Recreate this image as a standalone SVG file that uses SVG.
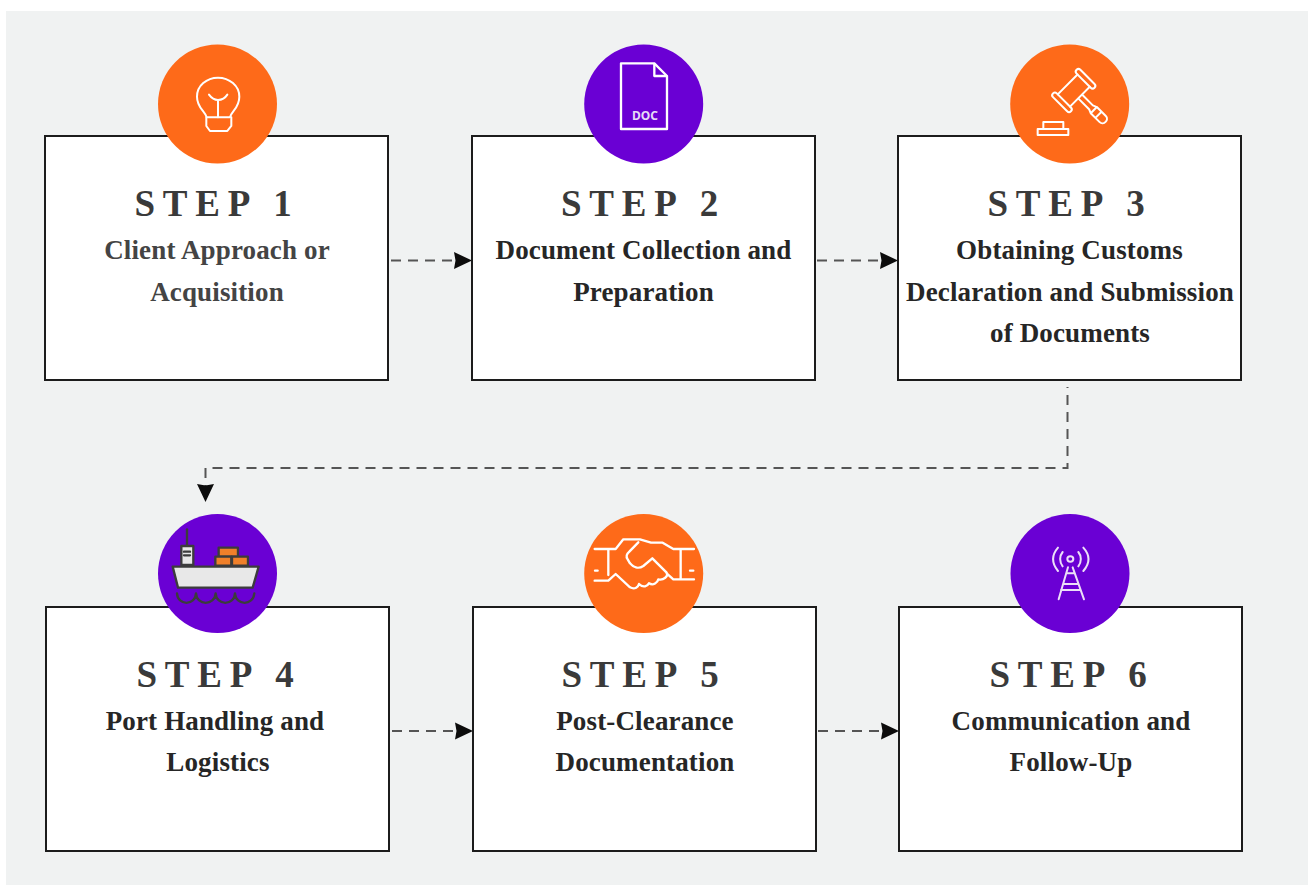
<svg xmlns="http://www.w3.org/2000/svg" width="1308" height="886" viewBox="0 0 1308 886">
<style>
.box{fill:#fff;stroke:#1c1c1c;stroke-width:2}
.step{font:bold 37px "Liberation Serif",serif;letter-spacing:7.8px;fill:#3a3a3a;text-anchor:middle}
.t{font:bold 27px "Liberation Serif",serif;letter-spacing:.15px;fill:#262626;text-anchor:middle}
.or{fill:#fe6a19}.pu{fill:#6a00d4}
.ic{fill:none;stroke:#fff;stroke-width:6;stroke-linejoin:round;stroke-linecap:round}
.sh{fill:none;stroke:#3c3c3c;stroke-width:7;stroke-linejoin:round;stroke-linecap:round}
.c{fill:none;stroke:#555;stroke-width:2;stroke-dasharray:10 7}
</style>
<defs><marker id="a" markerUnits="userSpaceOnUse" markerWidth="20" markerHeight="20" refX="18" refY="9" orient="auto"><path d="M0 0.500L18 9L0 17.500L1.500 9Z" fill="#0c0c0c"/></marker></defs>
<rect x="6" y="11" width="1302" height="874" fill="#f0f2f2"/>
<g id="connectors">
<path class="c" d="M391 260.500H472" marker-end="url(#a)"/>
<path class="c" d="M817 260.500H898" marker-end="url(#a)"/>
<path class="c" d="M1067.500 387V468H205.500V502" marker-end="url(#a)" stroke-dashoffset="9"/>
<path class="c" d="M392 731H473" marker-end="url(#a)"/>
<path class="c" d="M818 731H899" marker-end="url(#a)"/>
</g>
<g id="step1"><rect class="box" x="45" y="136" width="343" height="244"/><circle class="or" cx="217.500" cy="104" r="59.500"/>
<g transform="translate(150 40) scale(.3333)" class="ic"><path d="M170 232C165 212 141 204 141 170C141 137 170 113 204 113C238 113 268 137 268 170C268 204 245 212 240 232Z"/><path d="M177 164C185 175 195 180 204 180C215 180 225 175 232 164M204 180V232M169 232L169 258L180 273H232L244 258V232"/></g>
<text class="step" x="217" y="216">STEP 1</text><text class="t" x="217" y="259" style="fill:#444">Client Approach or</text><text class="t" x="217" y="301" style="fill:#444">Acquisition</text></g>
<g id="step2"><rect class="box" x="472" y="136" width="343" height="244"/><circle class="pu" cx="643.700" cy="104" r="59.500"/>
<g transform="translate(575 40) scale(.3333)" class="ic" style="stroke-width:7"><path d="M138 70H238L276 108V267H138Z"/><path d="M238 72V108H274"/></g>
<text x="645" y="120" style="font:bold 12px 'Noto Sans',sans-serif;fill:#e6dcf6" text-anchor="middle">DOC</text>
<text class="step" x="643.500" y="216">STEP 2</text><text class="t" x="643.500" y="259">Document Collection and</text><text class="t" x="643.500" y="301">Preparation</text></g>
<g id="step3"><rect class="box" x="898" y="136" width="343" height="244"/><circle class="or" cx="1069.700" cy="104" r="59.500"/>
<g transform="translate(1000 40) scale(.3333)" class="ic"><g transform="translate(222 151) rotate(45)"><rect x="-38" y="-57" width="76" height="16" rx="8"/><rect x="-38" y="43" width="76" height="16" rx="8"/><path d="M-26 -41V43M26 -41V43M26 -8H72L84 -13H122C138 -13 138 13 122 13H84L72 8H26M84 -13V13M104 -13V13"/></g><path d="M113 285H205V267H113ZM130 263V246H190V263"/></g>
<text class="step" x="1070" y="216">STEP 3</text><text class="t" x="1069.500" y="259">Obtaining Customs</text><text class="t" x="1070" y="301">Declaration and Submission</text><text class="t" x="1070" y="342">of Documents</text></g>
<g id="step4"><rect class="box" x="46" y="607" width="343" height="244"/><circle class="pu" cx="217.500" cy="573.500" r="59.500"/>
<g transform="translate(150 510) scale(.3333)"><path class="sh" d="M111 58V108"/><rect class="sh" x="94" y="108" width="36" height="57" style="fill:#e8e8e8"/><path class="sh" d="M102 125H120M102 136H120"/><rect class="sh" x="206" y="113" width="58" height="27" style="fill:#f0802a"/><rect class="sh" x="196" y="140" width="48" height="27" style="fill:#f0802a"/><rect class="sh" x="246" y="140" width="48" height="27" style="fill:#f0802a"/><path class="sh" d="M68 170H326L308 233H84Z" style="fill:#e8e8e8"/><path class="sh" d="M81 250C83 288 136 288 138 250C140 288 194 288 197 250C199 288 253 288 255 250C257 288 310 288 313 250"/></g>
<text class="step" x="219" y="687">STEP 4</text><text class="t" x="215" y="730">Port Handling and</text><text class="t" x="218" y="771">Logistics</text></g>
<g id="step5"><rect class="box" x="473" y="607" width="343" height="244"/><circle class="or" cx="643.700" cy="573.500" r="59.500"/>
<g transform="translate(575 510) scale(.3333)" class="ic" style="stroke-width:7"><path d="M59 117H122L145 88H195L228 98H263L295 117H357M59 212H100L122 192L165 232C180 240 190 230 192 222C205 235 218 228 222 220C235 228 248 218 250 208C265 212 282 198 275 188L232 145L205 168C190 178 175 172 165 160L158 148C152 140 155 132 163 125L190 97M275 190L295 208H357M100 117V195M317 117V208M60 182H68M345 182H355"/></g>
<text class="step" x="644" y="687">STEP 5</text><text class="t" x="645" y="730">Post-Clearance</text><text class="t" x="645" y="771">Documentation</text></g>
<g id="step6"><rect class="box" x="899" y="607" width="343" height="244"/><circle class="pu" cx="1070" cy="573.500" r="59.500"/>
<g transform="translate(1000 510) scale(.3333)" class="ic" style="stroke:#ecdff8"><ellipse cx="211" cy="147" rx="9" ry="8"/><path d="M174 113C155 135 155 160 174 183M188 126C178 138 178 156 188 169M250 113C270 135 270 160 250 183M235 126C245 138 245 156 235 169M204 172L176 268M218 172L252 268M201 190H223M192 222H232M183 240H240"/></g>
<text class="step" x="1072" y="687">STEP 6</text><text class="t" x="1071" y="730">Communication and</text><text class="t" x="1071" y="771">Follow-Up</text></g>
</svg>
